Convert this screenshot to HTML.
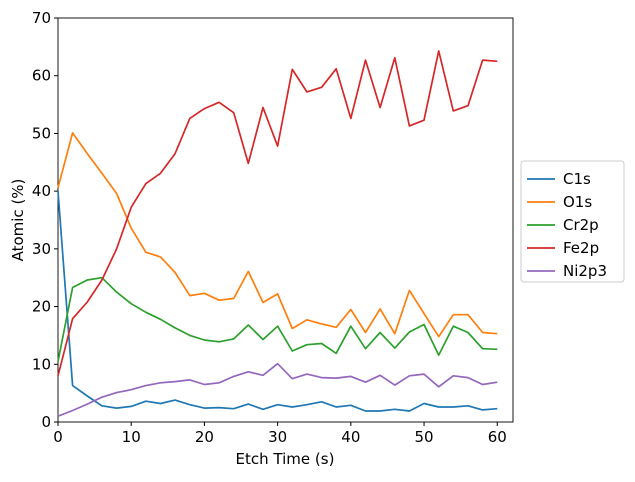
<!DOCTYPE html>
<html><head><meta charset="utf-8"><style>
body{margin:0;background:#fff;font-family:"Liberation Sans","DejaVu Sans",sans-serif}
svg text{font-family:"DejaVu Sans","Liberation Sans",sans-serif;font-size:15px;fill:#000}
</style></head><body>
<svg id="chart" width="635" height="477">
<g id="grid"></g>
<rect x="58" y="18" width="455" height="404" fill="none" stroke="#000" stroke-width="0.9"/>
<text x="285" y="464" text-anchor="middle">Etch Time (s)</text>
<text transform="translate(23,220) rotate(-90)" text-anchor="middle">Atomic (%)</text>
<g id="lines"></g>
<g>
<rect x="521" y="161" width="103" height="121" rx="3" fill="#fff" stroke="#ccc"/>
<g id="legend"></g>
</g>
</svg>
<script>
const times=[0,2,4,6,8,10,12,14,16,18,20,22,24,26,28,30,32,34,36,38,40,42,44,46,48,50,52,54,56,58,60];
const seriesNames=["C1s","O1s","Cr2p","Fe2p","Ni2p3"];
const c1s=[40,6.3,4.5,2.8,2.4,2.7,3.6,3.2,3.8,3.0,2.4,2.5,2.3,3.1,2.2,3.0,2.6,3.0,3.5,2.6,2.9,1.9,1.9,2.2,1.9,3.2,2.6,2.6,2.8,2.1,2.3];
const o1s=[40.6,50.1,46.5,43.1,39.6,33.6,29.4,28.6,25.9,21.9,22.3,21.1,21.4,26.1,20.7,22.2,16.2,17.7,17.0,16.4,19.5,15.5,19.6,15.3,22.8,18.8,14.8,18.6,18.6,15.5,15.3];
const cr2p=[10.5,23.3,24.6,25.0,22.5,20.5,19.0,17.8,16.3,15.0,14.2,13.9,14.4,16.8,14.3,16.6,12.3,13.4,13.6,11.9,16.6,12.7,15.5,12.8,15.6,16.9,11.6,16.6,15.5,12.7,12.6];
const fe2p=[8,17.9,20.8,24.6,30.0,37.2,41.3,43.1,46.5,52.6,54.3,55.4,53.6,44.8,54.5,47.8,61.1,57.2,58.0,61.2,52.6,62.7,54.5,63.1,51.3,52.3,64.3,53.9,54.8,62.7,62.5];
const ni2p3=[1.0,2.0,3.1,4.3,5.1,5.6,6.3,6.8,7.0,7.3,6.5,6.8,7.9,8.7,8.1,10.1,7.5,8.3,7.7,7.6,7.9,6.9,8.1,6.4,8.0,8.3,6.1,8.0,7.7,6.5,6.9];
const xTicks=[0,10,20,30,40,50,60];
const yTicks=[0,10,20,30,40,50,60,70];
const colors=["#1f77b4","#ff7f0e","#2ca02c","#d62728","#9467bd"];
const allSeries=[c1s,o1s,cr2p,fe2p,ni2p3];
const NS="http://www.w3.org/2000/svg";
const X=v=>58+v*(455/62.15);
const Y=v=>422-v*(404/70);
const grid=document.getElementById('grid');
function mk(t,a,p){const e=document.createElementNS(NS,t);for(const k in a)e.setAttribute(k,a[k]);p.appendChild(e);return e;}
xTicks.forEach(t=>{
  const l=mk('line',{x1:X(t),x2:X(t),y1:422,y2:426,stroke:'#000'},grid);
  
  
  const tx=mk('text',{x:X(t),y:442,'text-anchor':'middle'},grid);tx.textContent=t;
  
  
});
yTicks.forEach(t=>{
  const l=mk('line',{x1:54,x2:58,y1:Y(t),y2:Y(t),stroke:'#000'},grid);
  
  
  const tx=mk('text',{x:51,y:Y(t)+5,'text-anchor':'end'},grid);tx.textContent=t;
  
  
});
const lines=document.getElementById('lines');
const leg=document.getElementById('legend');
allSeries.forEach((s,i)=>{
  const pts=s.map((v,j)=>X(times[j]).toFixed(1)+','+Y(v).toFixed(1)).join(' ');
  const p=mk('polyline',{points:pts,fill:'none',stroke:colors[i],'stroke-width':1.7,'stroke-linejoin':'round'},lines);
  
  
  const ly=179+i*23;
  const ll=mk('line',{x1:527,x2:555,y1:ly,y2:ly,stroke:colors[i],'stroke-width':1.7},leg);
  
  
  const lt=mk('text',{x:563,y:ly+5},leg);lt.textContent=seriesNames[i];
  
  
});
</script>
</body></html>
